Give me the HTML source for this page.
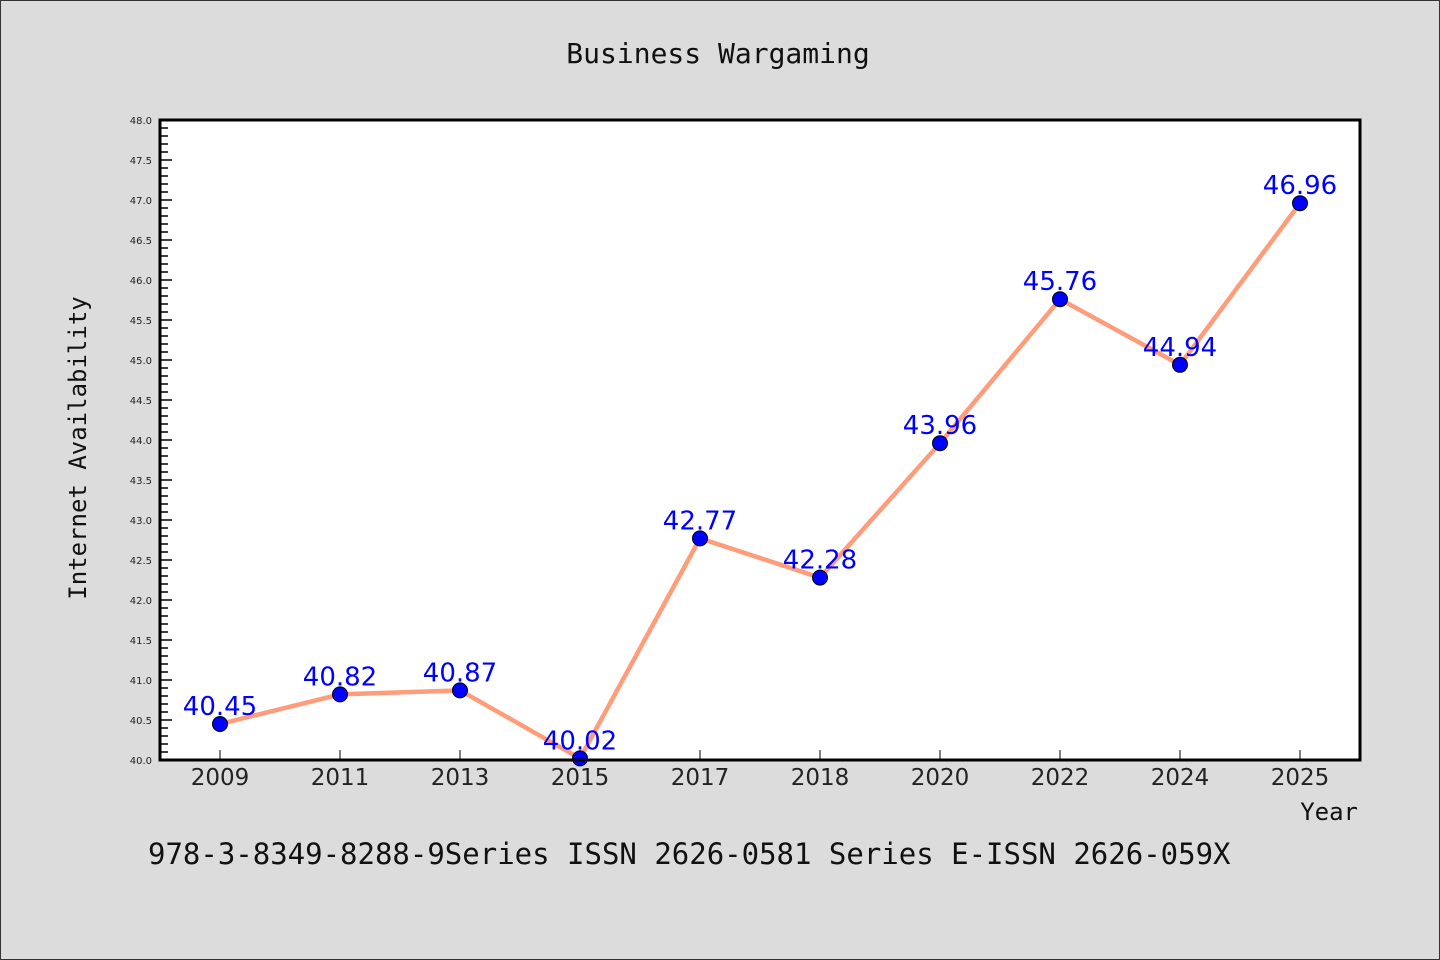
<!DOCTYPE html>
<html><head><meta charset="utf-8"><style>
body{margin:0;background:#dcdcdc;}
svg{display:block;}
</style></head><body>
<svg id="c" width="1440" height="960" xmlns="http://www.w3.org/2000/svg">
<rect x="0.5" y="0.5" width="1439" height="959" fill="#dcdcdc" stroke="#333"/>
<text x="718" y="63" text-anchor="middle" font-family="DejaVu Sans Mono, monospace" font-size="28" fill="#111">Business Wargaming</text>
<rect x="160" y="120" width="1200" height="640" fill="#fff"/>
<g id="ticks"></g>
<g id="series"></g>
<rect x="160" y="120" width="1200" height="640" fill="none" stroke="#000" stroke-width="3"/>
<text x="86" y="448" text-anchor="middle" transform="rotate(-90 86 448)" font-family="DejaVu Sans Mono, monospace" font-size="24" fill="#111">Internet Availability</text>
<text x="1358" y="820" text-anchor="end" font-family="DejaVu Sans Mono, monospace" font-size="24" fill="#111">Year</text>
<text x="148" y="864" font-family="DejaVu Sans Mono, monospace" font-size="29" fill="#111">978-3-8349-8288-9Series ISSN 2626-0581 Series E-ISSN 2626-059X</text>
</svg>
<script>
const categories=["2009","2011","2013","2015","2017","2018","2020","2022","2024","2025"];
const values=[40.45,40.82,40.87,40.02,42.77,42.28,43.96,45.76,44.94,46.96];
const valueLabels=["40.45","40.82","40.87","40.02","42.77","42.28","43.96","45.76","44.94","46.96"];
const yMin=40,yMax=48;
const NS="http://www.w3.org/2000/svg";
const L=160,R=1360,T=120,B=760;
function x(i){return L+(R-L)/categories.length*(i+0.5);}
function y(v){return B-(v-yMin)/(yMax-yMin)*(B-T);}
function mk(t,a,p){const e=document.createElementNS(NS,t);for(const k in a)e.setAttribute(k,a[k]);p.appendChild(e);return e;}
const tg=document.getElementById('ticks');
for(let k=0;k<=80;k++){const v=yMin+k*0.1;const major=k%5===0;
 const ln=mk('line',{x1:L,x2:L+(major?12:8),y1:y(v),y2:y(v),stroke:'#000','stroke-width':1.5},tg);
 
 
 if(major){const t=mk('text',{x:152,y:y(v)+4,'text-anchor':'end','font-family':'DejaVu Sans, sans-serif','font-size':10,fill:'#222'},tg);t.textContent=v.toFixed(1);
 
 }}
categories.forEach((c,i)=>{const ln=mk('line',{x1:x(i),x2:x(i),y1:B,y2:B-10,stroke:'#000','stroke-width':1},tg);
 
 
 const t=mk('text',{x:x(i),y:785,'text-anchor':'middle','font-family':'DejaVu Sans, sans-serif','font-size':23,fill:'#222'},tg);t.textContent=c;
 
 });
const sg=document.getElementById('series');
const pl=mk('polyline',{points:values.map((v,i)=>x(i)+','+y(v)).join(' '),fill:'none',stroke:'#ff9c7a','stroke-width':4.5},sg);


values.forEach((v,i)=>{const c=mk('circle',{cx:x(i),cy:y(v),r:7.5,fill:'#0000ff',stroke:'#000','stroke-width':1},sg);
 
 
 const t=mk('text',{x:x(i),y:y(v)-9,'text-anchor':'middle','font-family':'DejaVu Sans, sans-serif','font-size':26,fill:'#0000ff'},sg);t.textContent=valueLabels[i];
 
 });
</script>
</body></html>
